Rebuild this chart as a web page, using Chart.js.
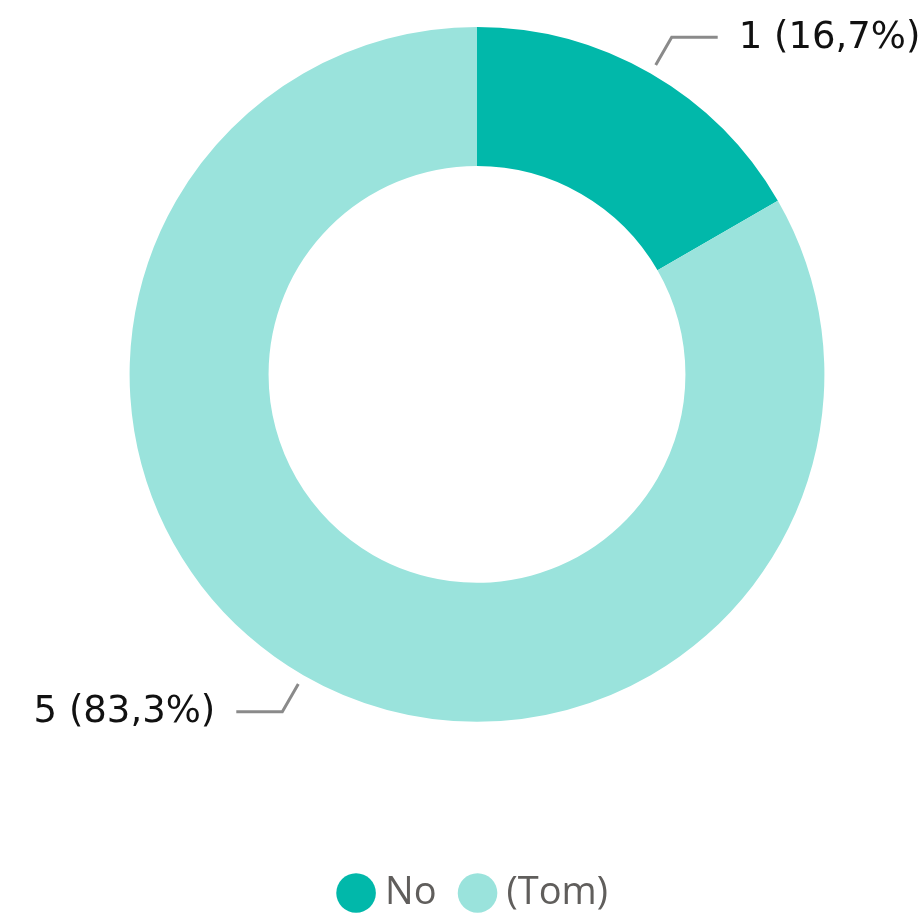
<!DOCTYPE html>
<html>
<head>
<meta charset="utf-8">
<script src="https://cdn.jsdelivr.net/npm/chart.js@4"></script>
<style>
  html, body { margin: 0; padding: 0; background: #fff; }
  #wrap { width: 923px; height: 915px; }
</style>
</head>
<body>
<div id="wrap"><canvas id="donut"></canvas></div>
<script>
const labels = ['No', '(Tom)'];
const counts = [1, 5];
const sliceColors = ['#01B8AA', '#9AE3DC'];

// leader lines + "n (xx,x%)" labels outside each slice
const calloutLabels = {
    id: 'calloutLabels',
    afterDatasetsDraw(chart) {
        const { ctx } = chart;
        const total = counts.reduce((a, b) => a + b, 0);
        ctx.save();
        ctx.strokeStyle = '#8a8a8a';
        ctx.lineWidth = 3;
        ctx.fillStyle = '#111111';
        ctx.font = "37px 'DejaVu Sans'";
        ctx.textBaseline = 'middle';

        chart.getDatasetMeta(0).data.forEach((arc, i) => {
            const { x, y, startAngle, endAngle, outerRadius } = arc.getProps(['x', 'y', 'startAngle', 'endAngle', 'outerRadius'], true);
            const mid = (startAngle + endAngle) / 2;
            const cos = Math.cos(mid), sin = Math.sin(mid);
            const x0 = x + cos * (outerRadius + 10), y0 = y + sin * (outerRadius + 10);
            const x1 = x + cos * (outerRadius + 42), y1 = y + sin * (outerRadius + 42);
            const dir = cos >= 0 ? 1 : -1;
            const x2 = x1 + dir * 46;

            ctx.beginPath();
            ctx.moveTo(x0, y0);
            ctx.lineTo(x1, y1);
            ctx.lineTo(x2, y1);
            ctx.stroke();

            const pct = (counts[i] / total * 100).toFixed(1).replace('.', ',');
            const text = counts[i] + ' (' + pct + '%)';
            ctx.textAlign = dir > 0 ? 'left' : 'right';
            ctx.fillText(text, x2 + dir * 21, y1 + 1);
        });
        ctx.restore();
    }
};

new Chart(document.getElementById('donut'), {
    type: 'doughnut',
    data: {
        labels: labels,
        datasets: [{
            data: counts,
            backgroundColor: sliceColors,
            borderWidth: 0,
        }],
    },
    options: {
        animation: false,
        responsive: true,
        maintainAspectRatio: false,
        cutout: '60%',
        layout: {
            padding: { top: 27, left: 31, right: 0, bottom: -7 }
        },
        plugins: {
            tooltip: { enabled: false },
            legend: {
                position: 'bottom',
                // empty title only used as spacer between ring and legend
                title: {
                    display: true,
                    text: '',
                    font: { size: 1 },
                    padding: { top: 120, bottom: 0 },
                },
                labels: {
                    usePointStyle: true,
                    pointStyle: 'circle',
                    boxWidth: 20,
                    boxHeight: 28,
                    padding: 31,
                    color: '#605E5C',
                    font: { family: "'Open Sans', sans-serif", size: 38 },
                },
            },
        },
    },
    plugins: [calloutLabels],
});
</script>
</body>
</html>
